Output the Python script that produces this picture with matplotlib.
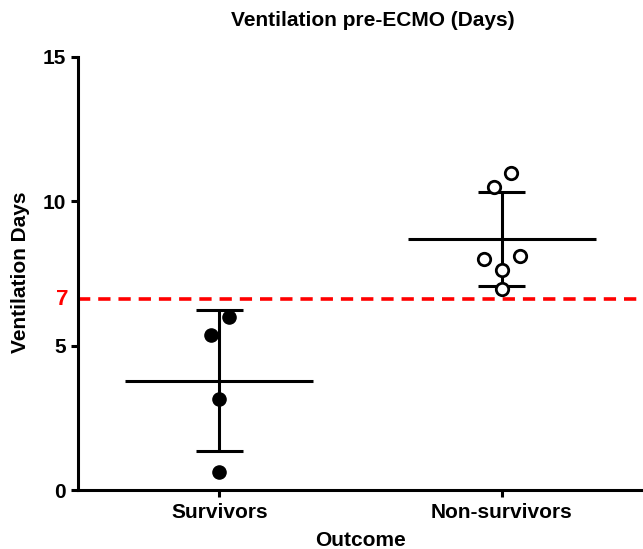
import numpy as np
import matplotlib
matplotlib.use("Agg")
import matplotlib.pyplot as plt
import matplotlib.transforms as mtransforms

plt.rcParams['font.family'] = ['Liberation Sans', 'DejaVu Sans']
plt.rcParams['font.weight'] = 'bold'

categories = ['Survivors', 'Non-survivors']
survivors = [5.98, 5.37, 3.16, 0.62]
survivors_jitter = [0.033, -0.029, 0.0, 0.0]
non_survivors = [10.96, 10.48, 8.10, 7.99, 7.62, 6.96]
non_survivors_jitter = [0.034, -0.028, 0.064, -0.063, 0.0, 0.0]
threshold = 6.61
threshold_label = '7'

W, H = 643, 549
fig = plt.figure(figsize=(W / 100, H / 100), dpi=100)
ax = fig.add_axes([78 / W, 1 - 490 / H, 1 - 78 / W, (490 - 56.7) / H])

lw = 2.2
groups = [(survivors, survivors_jitter), (non_survivors, non_survivors_jitter)]
for i, (vals, jit) in enumerate(groups):
    vals = np.array(vals)
    m = vals.mean()
    sd = vals.std(ddof=1)
    # mean line
    ax.plot([i - 0.333, i + 0.333], [m, m], color='black', lw=lw, solid_capstyle='butt', zorder=3)
    # mean +/- SD
    ax.plot([i, i], [m - sd, m + sd], color='black', lw=lw, solid_capstyle='butt', zorder=3)
    for y in (m - sd, m + sd):
        ax.plot([i - 0.083, i + 0.083], [y, y], color='black', lw=lw, solid_capstyle='butt', zorder=3)
    xs = i + np.array(jit)
    if i == 0:
        ax.scatter(xs, vals, s=90, color='black', zorder=4)
    else:
        ax.scatter(xs, vals, s=80, facecolor='white', edgecolor='black', linewidths=2.0, zorder=4)

ax.axhline(threshold, color='#ff0000', lw=2.6, dashes=(3.4, 2.2), zorder=2, clip_on=False)
trans = mtransforms.blended_transform_factory(ax.transAxes, ax.transData)
ax.text(-0.017, threshold, threshold_label, color='#ff0000', fontsize=16, fontweight='bold',
        ha='right', va='center', transform=trans)

ax.set_xlim(-0.5, 1.5)
ax.set_ylim(0, 15)
ax.set_xticks([0, 1])
ax.set_xticklabels(categories)
ax.set_yticks([0, 5, 10, 15])

for s in ['top', 'right']:
    ax.spines[s].set_visible(False)
for s in ['left', 'bottom']:
    ax.spines[s].set_linewidth(lw)
ax.tick_params(axis='both', width=lw, length=5, labelsize=15)
ax.tick_params(axis='x', pad=4)

fig.text(361 / W, 1 - 541 / H, 'Outcome', fontsize=15, fontweight='bold', ha='center', va='center')
fig.text(21 / W, 1 - 272 / H, 'Ventilation Days', fontsize=15, fontweight='bold',
         ha='center', va='center', rotation=90)
fig.text(372.5 / W, 1 - 21 / H, 'Ventilation pre-ECMO (Days)', fontsize=15, fontweight='bold',
         ha='center', va='center')

fig.savefig('out.png', dpi=100)
